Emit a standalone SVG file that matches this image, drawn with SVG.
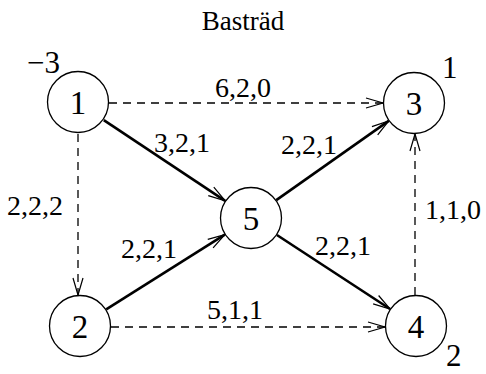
<svg xmlns="http://www.w3.org/2000/svg" width="486" height="374" viewBox="0 0 486 374">
<style>
text{font-family:"Liberation Serif","Times New Roman",serif;fill:#000}
.t{font-size:27px}
.n{font-size:33px;text-anchor:middle}
.e{font-size:28px}
.s{font-size:31px}
circle{fill:#fff;stroke:#000;stroke-width:1.3}
.d{stroke:#000;stroke-width:1.3;stroke-dasharray:8,6;fill:none}
.l{stroke:#000;stroke-width:2.6;fill:none}
</style>
<defs>
<marker id="a" markerUnits="userSpaceOnUse" orient="auto" refX="0" refY="0" markerWidth="30" markerHeight="20" overflow="visible">
<path d="M-17,-5 L0,0 L-17,5" fill="none" stroke="#000" stroke-width="1.2"/>
</marker>
</defs>
<text class="t" x="243" y="30" text-anchor="middle">Basträd</text>
<g id="edges">
<line class="d" x1="109" y1="103" x2="383" y2="103" marker-end="url(#a)"/>
<line class="d" x1="78" y1="134" x2="78" y2="295" marker-end="url(#a)"/>
<line class="d" x1="111" y1="327" x2="385" y2="327" marker-end="url(#a)"/>
<line class="d" x1="415" y1="295" x2="415" y2="134" marker-end="url(#a)"/>
<line class="l" x1="103.8" y1="120.2" x2="225.2" y2="200.8" marker-end="url(#a)"/>
<line class="l" x1="106.2" y1="309.4" x2="224.8" y2="234.6" marker-end="url(#a)"/>
<line class="l" x1="276.3" y1="200.1" x2="388.7" y2="120.9" marker-end="url(#a)"/>
<line class="l" x1="276.9" y1="235" x2="390.1" y2="309" marker-end="url(#a)"/>
<text class="e" x="215" y="97">6,2,0</text>
<text class="e" x="154" y="152">3,2,1</text>
<text class="e" x="281" y="154">2,2,1</text>
<text class="e" x="7" y="215">2,2,2</text>
<text class="e" x="121" y="258">2,2,1</text>
<text class="e" x="315" y="255">2,2,1</text>
<text class="e" x="207" y="319">5,1,1</text>
<text class="e" x="425" y="219">1,1,0</text>
</g>
<g id="n1"><circle cx="78" cy="102" r="30.5"/><text class="n" x="78" y="114">1</text><text class="s" x="27" y="73">−3</text></g>
<g id="n3"><circle cx="414" cy="103" r="30.5"/><text class="n" x="414" y="115">3</text><text class="s" x="442" y="78">1</text></g>
<g id="n5"><circle cx="251" cy="218" r="30.5"/><text class="n" x="251" y="230">5</text></g>
<g id="n2"><circle cx="80" cy="326" r="30.5"/><text class="n" x="80" y="338">2</text></g>
<g id="n4"><circle cx="416" cy="326" r="30.5"/><text class="n" x="416" y="338">4</text><text class="s" x="446" y="366">2</text></g>
</svg>
